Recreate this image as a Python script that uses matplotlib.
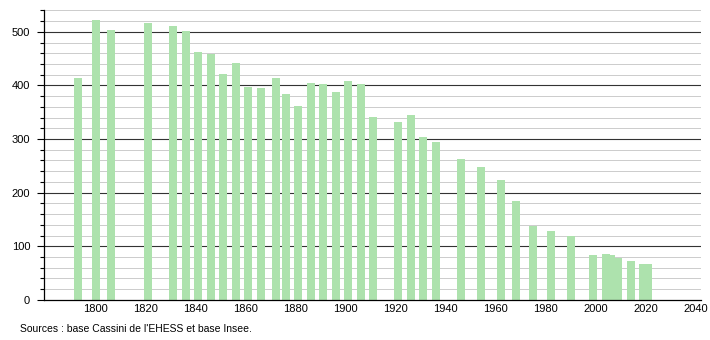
import matplotlib.pyplot as plt
from matplotlib.ticker import MultipleLocator

plt.rcParams['font.family'] = ['Liberation Sans', 'DejaVu Sans']

# population by census year
years = [1793, 1800, 1806, 1821, 1831, 1836, 1841, 1846, 1851, 1856,
         1861, 1866, 1872, 1876, 1881, 1886, 1891, 1896, 1901, 1906,
         1911, 1921, 1926, 1931, 1936, 1946, 1954, 1962, 1968, 1975,
         1982, 1990, 1999, 2004, 2006, 2009, 2014, 2019, 2021]
population = [413, 523, 504, 516, 510, 501, 463, 458, 421, 441,
              397, 395, 413, 384, 362, 405, 403, 387, 409, 402,
              342, 331, 344, 303, 295, 263, 248, 224, 184, 138,
              128, 120, 84, 86, 83, 78, 73, 67, 67]

xticks = list(range(1800, 2041, 20))
source = "Sources : base Cassini de l'EHESS et base Insee."

fig = plt.figure(figsize=(7.1, 3.4), dpi=100)
ax = fig.add_axes([0.062, 0.118, 0.925, 0.853])

# grid: light every 20, dark every 100
for v in range(20, 541, 20):
    if v % 100 == 0:
        ax.axhline(v, color='#333333', lw=0.8, zorder=1)
    else:
        ax.axhline(v, color='#cccccc', lw=0.7, zorder=1)

ax.bar(years, population, width=3.2, color='#ade2ad', zorder=2)

ax.set_xlim(1779.4, 2042)
ax.set_ylim(0, 541)
ax.set_xticks(xticks)
ax.yaxis.set_major_locator(MultipleLocator(100))
ax.yaxis.set_minor_locator(MultipleLocator(20))
ax.tick_params(axis='x', length=0, labelsize=8, pad=3)
ax.tick_params(axis='y', which='major', length=5, width=0.8, labelsize=8, pad=5)
ax.tick_params(axis='y', which='minor', length=3, width=0.8)

for s in ['top', 'right']:
    ax.spines[s].set_visible(False)
ax.spines['left'].set_linewidth(0.9)
ax.spines['bottom'].set_linewidth(0.9)

fig.text(0.028, 0.032, source, fontsize=7.5, ha='left', va='center')

fig.savefig('out.png', dpi=100)
